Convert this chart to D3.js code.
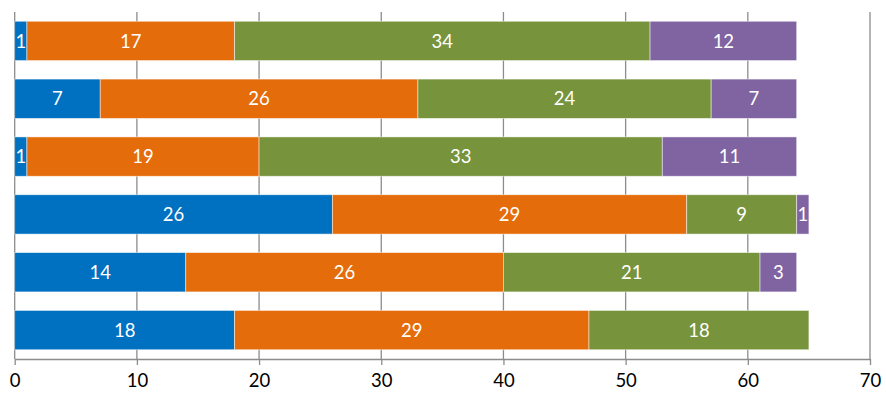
<!DOCTYPE html>
<html>
<head>
<meta charset="utf-8">
<script src="https://cdn.jsdelivr.net/npm/d3@7"></script>
<style>
  body { margin: 0; background: #fff; }
  text { font-family: Lato, "Open Sans", sans-serif; }
</style>
</head>
<body>
<div id="chart"></div>
<script>
// data, one row per bar (top to bottom)
let rows = ["r1", "r2", "r3", "r4", "r5", "r6"];
let seriesA = [1, 7, 1, 26, 14, 18];
let seriesB = [17, 26, 19, 29, 26, 29];
let seriesC = [34, 24, 33, 9, 21, 18];
let seriesD = [12, 7, 11, 1, 3, 0];
let xTicks = [0, 10, 20, 30, 40, 50, 60, 70];
let colors = ["#0070C0", "#E46C0A", "#77933C", "#8064A2"];

let width = 886, height = 399;
let margin = {top: 12, right: 16, bottom: 40, left: 14.7};

let svg = d3.select("#chart")
    .append("svg")
    .attr("width", width)
    .attr("height", height);

let x = d3.scaleLinear()
    .domain([0, 70])
    .range([margin.left, width - margin.right]);

let y = d3.scaleBand()
    .domain(rows)
    .range([margin.top, height - margin.bottom])
    .paddingInner(0.32)
    .paddingOuter(0.16);

let table = rows.map(function (r, i) {
    return {row: r, a: seriesA[i], b: seriesB[i], c: seriesC[i], d: seriesD[i]};
});
let stack = d3.stack().keys(["a", "b", "c", "d"]);
let layers = stack(table);

// gridlines
svg.append("g")
    .selectAll("line")
    .data(xTicks)
    .enter()
    .append("line")
    .attr("x1", d => x(d)).attr("x2", d => x(d))
    .attr("y1", margin.top).attr("y2", height - margin.bottom)
    .attr("stroke", "#8c8c8c")
    .attr("stroke-width", 1.3);

// bars
let layer = svg.selectAll(".layer")
    .data(layers)
    .enter()
    .append("g")
    .attr("class", "layer")
    .attr("fill", (d, i) => colors[i]);

layer.selectAll("rect")
    .data(d => d.filter(p => p[1] - p[0] > 0))
    .enter()
    .append("rect")
    .attr("x", d => x(d[0]))
    .attr("y", d => y(d.data.row))
    .attr("width", d => x(d[1]) - x(d[0]))
    .attr("height", y.bandwidth())
    .attr("stroke", "#ffffff")
    .attr("stroke-opacity", 0.6)
    .attr("stroke-width", 0.8);

layer.selectAll("text")
    .data(d => d.filter(p => p[1] - p[0] > 0))
    .enter()
    .append("text")
    .attr("x", d => (x(d[0]) + x(d[1])) / 2)
    .attr("y", d => y(d.data.row) + y.bandwidth() / 2)
    .attr("dy", "0.36em")
    .attr("text-anchor", "middle")
    .attr("fill", "#ffffff")
    .attr("font-size", 18.5)
    .text(d => d[1] - d[0]);

// x axis
let axis = svg.append("g")
    .attr("transform", "translate(0," + (height - margin.bottom) + ")")
    .call(d3.axisBottom(x).tickValues(xTicks).tickSize(6).tickPadding(9).tickSizeOuter(0));
axis.select(".domain").attr("stroke", "#8c8c8c").attr("stroke-width", 1.3);
axis.selectAll(".tick line").attr("stroke", "#8c8c8c").attr("stroke-width", 1.3);
axis.selectAll(".tick text")
    .attr("fill", "#000")
    .attr("font-size", 18.5)
    .style("font-family", "Lato, 'Open Sans', sans-serif");
</script>
</body>
</html>
